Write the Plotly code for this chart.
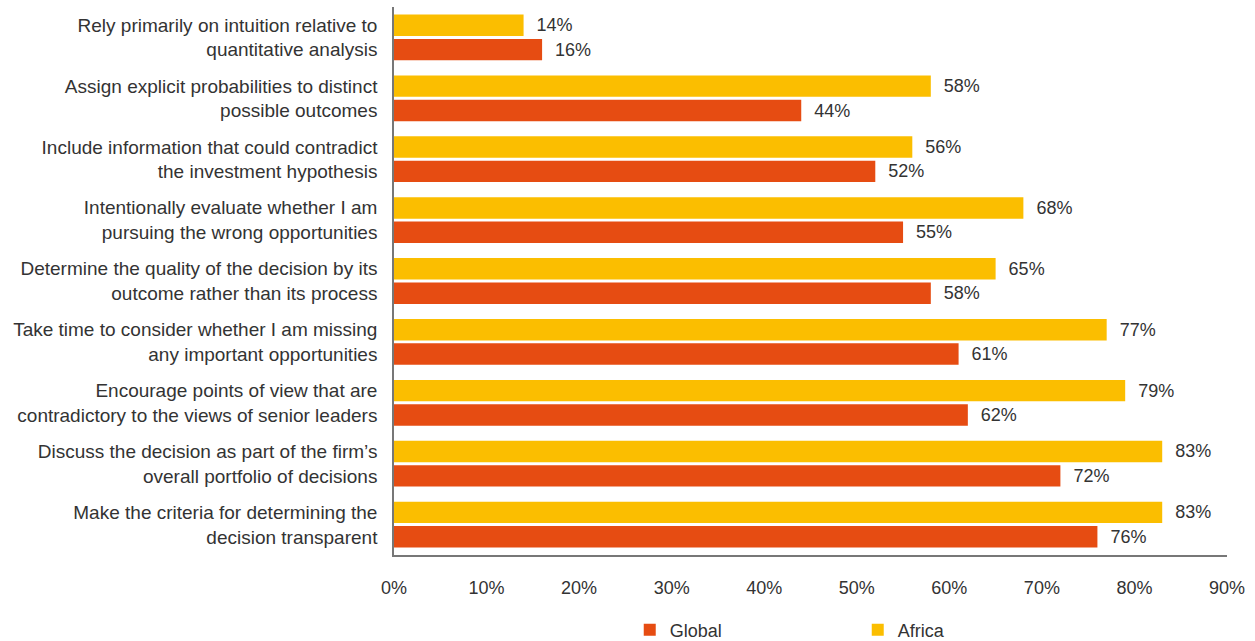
import plotly.graph_objects as go

# Decision-making practices, share of respondents (%)
categories = [
    "Rely primarily on intuition relative to<br>quantitative analysis",
    "Assign explicit probabilities to distinct<br>possible outcomes",
    "Include information that could contradict<br>the investment hypothesis",
    "Intentionally evaluate whether I am<br>pursuing the wrong opportunities",
    "Determine the quality of the decision by its<br>outcome rather than its process",
    "Take time to consider whether I am missing<br>any important opportunities",
    "Encourage points of view that are<br>contradictory to the views of senior leaders",
    "Discuss the decision as part of the firm’s<br>overall portfolio of decisions",
    "Make the criteria for determining the<br>decision transparent",
]
africa = [14, 58, 56, 68, 65, 77, 79, 83, 83]
global_ = [16, 44, 52, 55, 58, 61, 62, 72, 76]
tick_values = [0, 10, 20, 30, 40, 50, 60, 70, 80, 90]
tick_labels = [f"{v}%" for v in tick_values]

AFRICA_COLOR = "#FBBE00"
GLOBAL_COLOR = "#E64C12"
TEXT_COLOR = "#333333"
FONT = "Liberation Sans, Arial, sans-serif"
PAD = "\u00a0\u00a0"  # small gap between bar end and its value label

fig = go.Figure()
fig.add_trace(go.Bar(
    name="Africa", y=categories, x=africa, orientation="h",
    marker_color=AFRICA_COLOR, marker_line_width=0,
    text=[f"{PAD}{v}%" for v in africa], textposition="outside",
    textfont=dict(size=18, color=TEXT_COLOR, family=FONT),
    cliponaxis=False, constraintext="none", legendrank=2,
))
fig.add_trace(go.Bar(
    name="Global", y=categories, x=global_, orientation="h",
    marker_color=GLOBAL_COLOR, marker_line_width=0,
    text=[f"{PAD}{v}%" for v in global_], textposition="outside",
    textfont=dict(size=18, color=TEXT_COLOR, family=FONT),
    cliponaxis=False, constraintext="none", legendrank=1,
))

fig.update_layout(
    width=1255, height=641,
    margin=dict(l=394, r=28, t=7, b=86, autoexpand=False),
    paper_bgcolor="white", plot_bgcolor="white",
    barmode="group", bargap=0.2, bargroupgap=0.12,
    font=dict(family=FONT, size=18, color=TEXT_COLOR),
    showlegend=True,
    legend=dict(
        orientation="h", x=0.283, xanchor="left", y=-0.137, yanchor="middle",
        entrywidth=183, font=dict(size=18, color=TEXT_COLOR, family=FONT),
        bgcolor="rgba(0,0,0,0)",
    ),
)
fig.update_xaxes(
    range=[0, 90], tickmode="array", tickvals=tick_values, ticktext=tick_labels,
    showgrid=False, zeroline=False, automargin=False,
    showline=True, linecolor="#777777", linewidth=1.5,
    ticks="", ticklabelstandoff=16,
    tickfont=dict(size=18, color=TEXT_COLOR, family=FONT),
)
fig.update_yaxes(
    autorange="reversed", showgrid=False, zeroline=False, automargin=False,
    showline=True, linecolor="#777777", linewidth=1.5,
    ticks="", ticklabelstandoff=11,
    tickfont=dict(size=19, color=TEXT_COLOR, family=FONT),
)

fig.write_html("out.html")
